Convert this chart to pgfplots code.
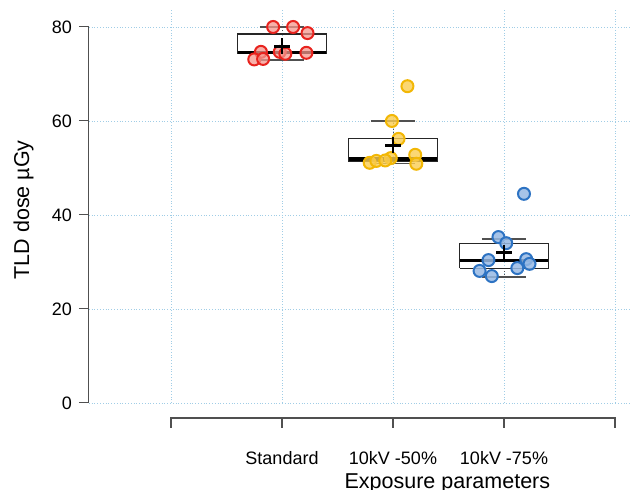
\documentclass[border=0pt]{standalone}
\usepackage{fontspec}
\setmainfont{Liberation Sans}
\usepackage{pgfplots}
\pgfplotsset{compat=1.18}
\definecolor{gridblue}{RGB}{160,205,230}
\definecolor{redE}{RGB}{232,35,30}
\definecolor{redF}{RGB}{245,150,140}
\definecolor{orE}{RGB}{242,183,5}
\definecolor{orF}{RGB}{250,205,80}
\definecolor{blE}{RGB}{45,115,195}
\definecolor{blF}{RGB}{150,185,228}
\definecolor{axgray}{RGB}{80,80,80}
\begin{document}
\begin{tikzpicture}
\begin{axis}[
 scale only axis, x=55.5pt, y=2.35pt,
 xmin=-0.74, xmax=4.135, ymin=0, ymax=83.6,
 axis line style={draw=none},
 xtick={0,1,2,3,4}, xticklabels={,Standard,10kV -50\%,10kV -75\%,},
 ytick={0,20,40,60,80}, ytick pos=left, xtick pos=bottom,
 tick align=outside, major tick length=5pt,
 xtick style={draw=none}, ytick style={draw=axgray, line width=0.5pt},
 grid=major, major grid style={densely dotted, gridblue, line width=0.4pt},
 tick label style={font=\fontsize{9}{10}\selectfont},
 xticklabel style={yshift=-15.5pt},
 /pgf/number format/assume math mode=true,
 clip=false,
 xlabel={Exposure parameters}, ylabel={TLD dose µGy},
 label style={font=\fontsize{10.75}{12}\selectfont},
 xlabel style={at={(axis cs:2.49,-18.1)}, anchor=base},
 ylabel style={at={(axis cs:-1.279,41.1)}, anchor=base},
]
% whiskers (dotted)
\addplot[axgray, densely dotted, line width=0.5pt] coordinates {(1,78.5) (1,80)};
\addplot[axgray, densely dotted, line width=0.5pt] coordinates {(1,74.3) (1,73.0)};
\addplot[axgray, densely dotted, line width=0.5pt] coordinates {(2,56.2) (2,60.0)};
\addplot[axgray, densely dotted, line width=0.5pt] coordinates {(2,51.3) (2,50.9)};
\addplot[axgray, densely dotted, line width=0.5pt] coordinates {(3,34.0) (3,34.9)};
\addplot[axgray, densely dotted, line width=0.5pt] coordinates {(3,28.7) (3,26.8)};
% whisker caps
\addplot[axgray, line width=0.7pt] coordinates {(0.8,80) (1.2,80)};
\addplot[axgray, line width=0.7pt] coordinates {(0.8,73.0) (1.2,73.0)};
\addplot[axgray, line width=0.7pt] coordinates {(1.8,60.0) (2.2,60.0)};
\addplot[axgray, line width=0.7pt] coordinates {(1.8,50.9) (2.2,50.9)};
\addplot[axgray, line width=0.7pt] coordinates {(2.8,34.9) (3.2,34.9)};
\addplot[axgray, line width=0.7pt] coordinates {(2.8,26.8) (3.2,26.8)};
% boxes (Q1..Q3)
\addplot[black!85, line width=0.55pt] coordinates {(0.6,74.3) (1.4,74.3) (1.4,78.5) (0.6,78.5) (0.6,74.3)};
\addplot[black!85, line width=0.55pt] coordinates {(1.6,51.3) (2.4,51.3) (2.4,56.2) (1.6,56.2) (1.6,51.3)};
\addplot[black!85, line width=0.55pt] coordinates {(2.6,28.7) (3.4,28.7) (3.4,34.0) (2.6,34.0) (2.6,28.7)};
% medians
\addplot[black, line width=1.6pt] coordinates {(0.6,74.5) (1.4,74.5)};
\addplot[black, line width=1.6pt] coordinates {(1.6,51.9) (2.4,51.9)};
\addplot[black, line width=1.6pt] coordinates {(2.6,30.4) (3.4,30.4)};
% points
\addplot[only marks, mark=*, mark size=3pt, mark options={draw=redE, fill=redF, fill opacity=0.75, line width=1pt}] coordinates {
(0.92,80.0) (1.10,80.0) (1.23,78.7) (0.81,74.7) (0.75,73.1) (0.83,73.2) (0.98,74.7) (1.03,74.3) (1.22,74.5)};
\addplot[only marks, mark=*, mark size=3pt, mark options={draw=orE, fill=orF, fill opacity=0.8, line width=1pt}] coordinates {
(2.13,67.4) (1.99,60.0) (2.05,56.2) (1.98,52.1) (2.20,52.8) (2.21,50.9) (1.79,51.1) (1.85,51.5) (1.93,51.6)};
\addplot[only marks, mark=*, mark size=3pt, mark options={draw=blE, fill=blF, fill opacity=0.85, line width=1pt}] coordinates {
(3.18,44.5) (2.95,35.3) (3.02,34.0) (2.86,30.4) (3.20,30.6) (3.23,29.6) (3.12,28.7) (2.78,28.1) (2.89,27.0)};
% means
\addplot[only marks, mark=+, mark size=4pt, mark options={line width=1.3pt, draw=black}] coordinates {(1,75.9) (2,54.8) (3,32.0)};
% axis lines
\draw[axgray, line width=0.6pt] (axis cs:-0.74,0) -- (axis cs:-0.74,80);
\draw[axgray, line width=0.6pt] (axis cs:0,-5.32) -- (axis cs:0,-3.19) -- (axis cs:4,-3.19) -- (axis cs:4,-5.32);
\draw[axgray, line width=0.6pt] (axis cs:1,-3.19) -- (axis cs:1,-5.32);
\draw[axgray, line width=0.6pt] (axis cs:2,-3.19) -- (axis cs:2,-5.32);
\draw[axgray, line width=0.6pt] (axis cs:3,-3.19) -- (axis cs:3,-5.32);
\coordinate (BL) at (axis cs:-1.5405,-18.51);
\coordinate (TR) at (axis cs:4.135,85.74);
\end{axis}
\pgfresetboundingbox
\useasboundingbox (BL) rectangle (TR);
\end{tikzpicture}
\end{document}
